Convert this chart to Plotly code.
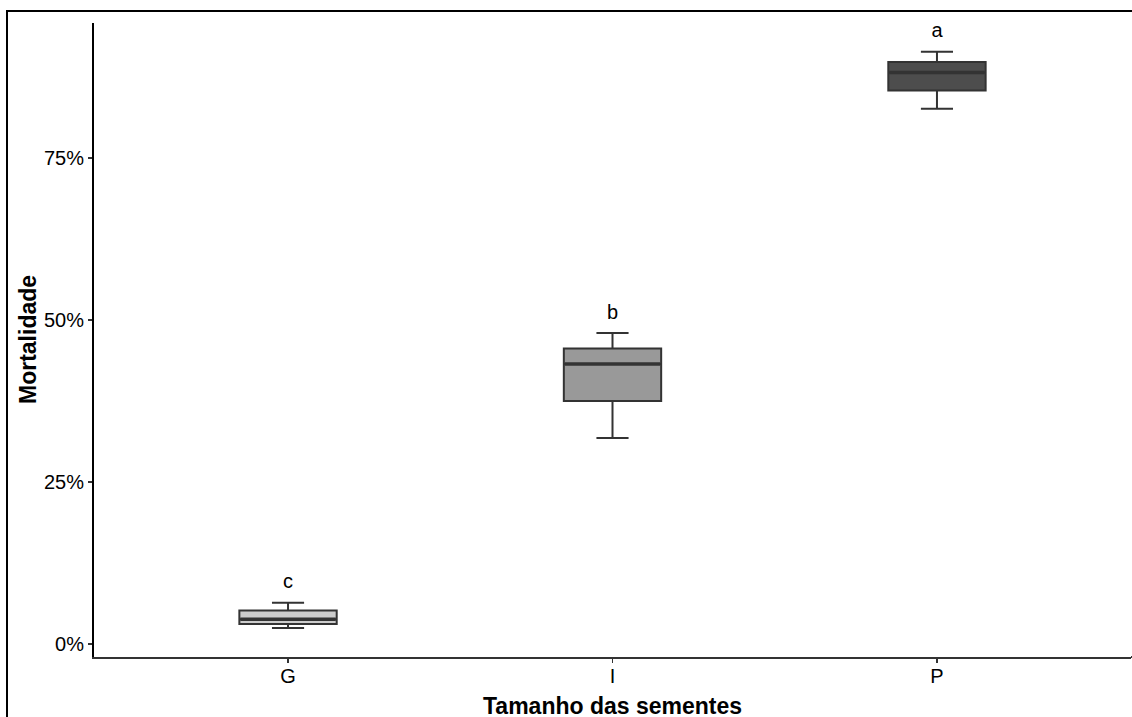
import plotly.graph_objects as go

categories = ["G", "I", "P"]
q1 = [0.031, 0.375, 0.854]
median = [0.038, 0.432, 0.882]
q3 = [0.0515, 0.456, 0.898]
lower = [0.0247, 0.318, 0.826]
upper = [0.0637, 0.480, 0.914]
letters = ["c", "b", "a"]
fills = ["#CCCCCC", "#999999", "#4D4D4D"]

W, H = 1132, 717
L, R, T, B = 94, 1, 23, 60
pw, ph = W - L - R, H - T - B

def px_x(p):
    return (p - L) / pw

def px_y(p):
    return (H - B - p) / ph

fig = go.Figure()
box_w = 0.3
for i, c in enumerate(categories):
    fig.add_trace(go.Box(
        x=[i], q1=[q1[i]], median=[median[i]], q3=[q3[i]],
        lowerfence=[lower[i]], upperfence=[upper[i]],
        width=box_w, whiskerwidth=0.33,
        fillcolor=fills[i], line=dict(color="#333333", width=2),
        boxpoints=False, showlegend=False, hoverinfo="skip",
    ))
    fig.add_trace(go.Scatter(
        x=[i - box_w / 2 + 0.003, i + box_w / 2 - 0.003], y=[median[i], median[i]],
        mode="lines", line=dict(color="#333333", width=3.5),
        showlegend=False, hoverinfo="skip",
    ))

fig.add_trace(go.Scatter(
    x=list(range(len(categories))), y=[u + 0.03 for u in upper],
    mode="text", text=letters,
    textfont=dict(family="Liberation Sans, Arial", size=20, color="black"),
    showlegend=False, hoverinfo="skip",
))

fig.update_layout(
    width=W, height=H, showlegend=False,
    margin=dict(l=L, r=R, t=T, b=B, autoexpand=False),
    paper_bgcolor="white", plot_bgcolor="white",
    font=dict(family="Liberation Sans, Arial", color="black"),
    xaxis=dict(
        range=[-0.598, 2.598], tickvals=[0, 1, 2], ticktext=categories,
        showgrid=False, zeroline=False, showline=True, linecolor="#333333", linewidth=2,
        ticks="outside", ticklen=4, tickcolor="#333333", tickwidth=1.5,
        tickfont=dict(size=20, color="black"), ticklabelstandoff=-4,
        automargin=False, fixedrange=True,
    ),
    yaxis=dict(
        range=[-0.0201, 0.9583], tickvals=[0, 0.25, 0.5, 0.75], tickformat=".0%",
        showgrid=False, zeroline=False, showline=True, linecolor="black", linewidth=2,
        ticks="outside", ticklen=4, tickcolor="#333333", tickwidth=1.5,
        tickfont=dict(size=20, color="black"),
        automargin=False, fixedrange=True,
    ),
    annotations=[
        dict(text="<b>Tamanho das sementes</b>", xref="paper", yref="paper",
             x=px_x(612), y=px_y(706), xanchor="center", yanchor="middle",
             showarrow=False, font=dict(size=23, color="black")),
        dict(text="<b>Mortalidade</b>", xref="paper", yref="paper",
             x=px_x(28), y=px_y(340), xanchor="center", yanchor="middle",
             textangle=-90, showarrow=False, font=dict(size=23, color="black")),
    ],
    shapes=[
        dict(type="rect", xref="paper", yref="paper", layer="above",
             x0=px_x(W - 8), x1=px_x(W + 10), y0=px_y(654), y1=px_y(13),
             line=dict(width=0), fillcolor="white"),
        dict(type="line", xref="paper", yref="paper",
             x0=px_x(6), x1=px_x(W), y0=px_y(11), y1=px_y(11),
             line=dict(color="black", width=2)),
        dict(type="line", xref="paper", yref="paper",
             x0=px_x(7), x1=px_x(7), y0=px_y(10), y1=px_y(H),
             line=dict(color="black", width=2)),
        dict(type="line", xref="paper", yref="paper",
             x0=1, x1=px_x(W), y0=0, y1=0,
             line=dict(color="#333333", width=2)),
    ],
)

fig.write_html("out.html", config={"displayModeBar": False, "staticPlot": True})
